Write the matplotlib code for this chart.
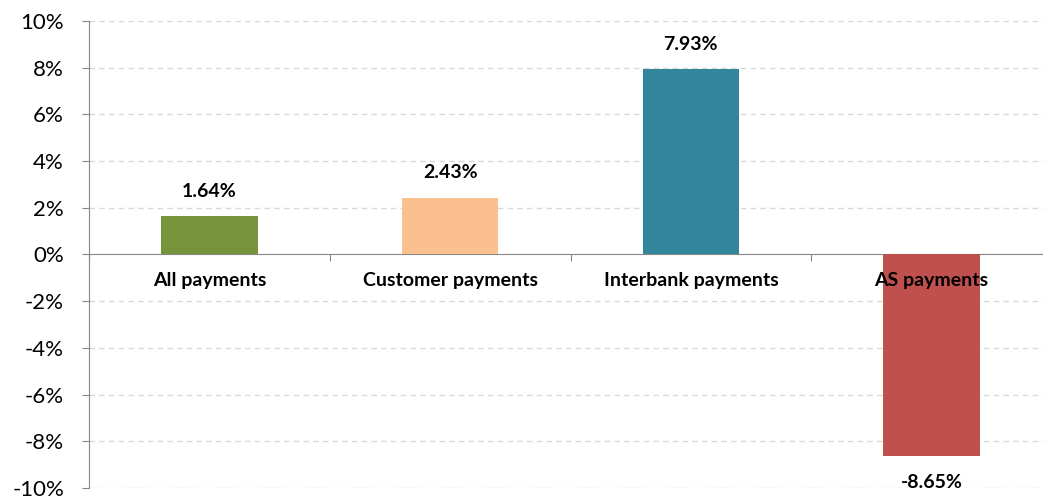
import matplotlib.pyplot as plt
import numpy as np

categories = ["All payments", "Customer payments", "Interbank payments", "AS payments"]
values = [1.64, 2.43, 7.93, -8.65]
colors = ["#77933C", "#FAC090", "#31859C", "#C0504D"]
yticks = [-10, -8, -6, -4, -2, 0, 2, 4, 6, 8, 10]

plt.rcParams['font.family'] = ['Lato', 'DejaVu Sans']

fig = plt.figure(figsize=(10.43, 4.98), dpi=100)
ax = fig.add_axes([89 / 1043, 10 / 498, 963 / 1043, 467 / 498])

x = np.arange(len(categories))
ax.bar(x, values, width=0.40, color=colors, zorder=3)

ax.set_xlim(-0.5, len(categories) - 0.5)
ax.set_ylim(-10, 10)
ax.set_yticks(yticks)
ax.set_yticklabels([f"{t}%" for t in yticks], fontsize=16)

for t in yticks:
    if t != 0:
        ax.axhline(t, color="#D9D9D9", linestyle=(0, (4, 3)), linewidth=1, zorder=1)

# zero line acts as the category axis
ax.spines['bottom'].set_position(('data', 0))
ax.spines['bottom'].set_color("#868686")
ax.spines['left'].set_color("#868686")
ax.spines['top'].set_visible(False)
ax.spines['right'].set_visible(False)
ax.set_xticks(np.arange(-0.5, len(categories), 1.0))
ax.set_xticklabels([])
ax.tick_params(axis='x', length=5, color="#868686", direction='out')
ax.tick_params(axis='y', length=5, color="#868686", direction='out', pad=13)

for xi, name in zip(x, categories):
    ax.annotate(name, (xi, 0), xytext=(0, -19), textcoords='offset points',
                ha='center', va='center', fontsize=14, fontweight='bold', zorder=4)

for xi, v in zip(x, values):
    off = 18 if v > 0 else -19
    ax.annotate(f"{v:.2f}%", (xi, v), xytext=(0, off), textcoords='offset points',
                ha='center', va='center', fontsize=14, fontweight='bold')

fig.savefig("out.png", dpi=100)
